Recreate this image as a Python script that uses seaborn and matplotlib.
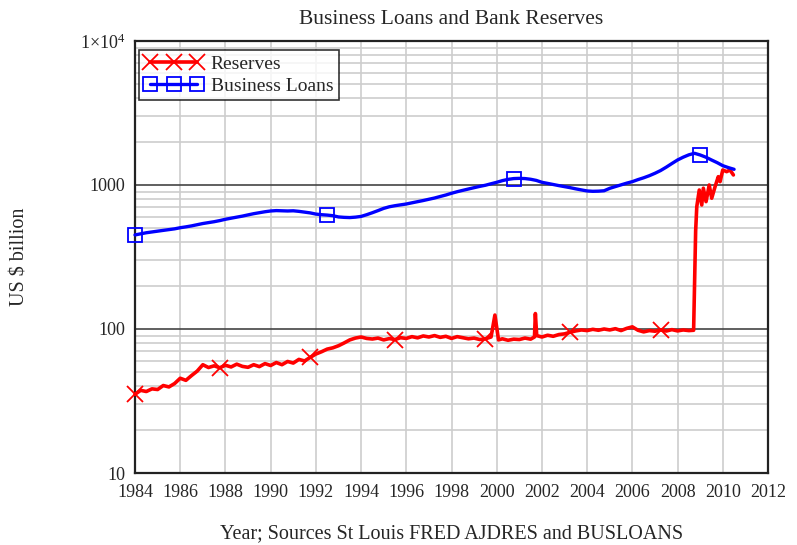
import numpy as np
import pandas as pd
import matplotlib
matplotlib.use('Agg')
import matplotlib.pyplot as plt
import seaborn as sns
from matplotlib.lines import Line2D
from matplotlib.ticker import LogLocator, FixedLocator, FixedFormatter, NullFormatter

# Business loans, quarterly from 1984 Q1 (US $ billion)
loans = [
    450, 458, 466, 472,
    478, 484, 490, 496,
    505, 512, 520, 530,
    540, 548, 556, 566,
    578, 588, 598, 608,
    620, 632, 642, 652,
    660, 664, 662, 660,
    662, 656, 648, 640,
    628, 622, 618, 612,
    600, 596, 594, 598,
    605, 622, 642, 664,
    688, 706, 718, 728,
    738, 752, 766, 780,
    796, 812, 832, 852,
    876, 898, 918, 938,
    958, 978, 996, 1020,
    1044, 1072, 1094, 1108,
    1112, 1108, 1096, 1076,
    1044, 1026, 1008, 990,
    974, 958, 940, 924,
    909, 904, 906, 912,
    948, 975, 1002, 1030,
    1055, 1090, 1122, 1160,
    1206, 1260, 1330, 1410,
    1492, 1560, 1620, 1660,
    1616, 1560, 1492, 1430,
    1362, 1320, 1285,
]
loan_years = 1984 + np.arange(len(loans)) / 4

# Bank reserves (US $ billion)
res_years = [
    1984.00, 1984.25, 1984.50, 1984.75, 1985.00, 1985.25, 1985.50, 1985.75,
    1986.00, 1986.25, 1986.50, 1986.75, 1987.00, 1987.25, 1987.50, 1987.75,
    1988.00, 1988.25, 1988.50, 1988.75, 1989.00, 1989.25, 1989.50, 1989.75,
    1990.00, 1990.25, 1990.50, 1990.75, 1991.00, 1991.25, 1991.50, 1991.75,
    1992.00, 1992.25, 1992.50, 1992.75, 1993.00, 1993.25, 1993.50, 1993.75,
    1994.00, 1994.25, 1994.50, 1994.75, 1995.00, 1995.25, 1995.50, 1995.75,
    1996.00, 1996.25, 1996.50, 1996.75, 1997.00, 1997.25, 1997.50, 1997.75,
    1998.00, 1998.25, 1998.50, 1998.75, 1999.00, 1999.25, 1999.50, 1999.75,
    1999.92, 2000.08, 2000.25, 2000.50, 2000.75, 2001.00, 2001.25, 2001.50,
    2001.67, 2001.71, 2001.77, 2002.00, 2002.25, 2002.50, 2002.75, 2003.00,
    2003.25, 2003.50, 2003.75, 2004.00, 2004.25, 2004.50, 2004.75, 2005.00,
    2005.25, 2005.50, 2005.75, 2006.00, 2006.25, 2006.50, 2006.75, 2007.00,
    2007.25, 2007.50, 2007.75, 2008.00, 2008.25, 2008.50, 2008.71, 2008.80,
    2008.85, 2008.96, 2009.07, 2009.14, 2009.26, 2009.40, 2009.51, 2009.66,
    2009.80, 2009.88, 2010.00, 2010.17, 2010.32, 2010.47,
]
reserves = [
    35.2, 37.5, 36.8, 38.4, 38.0, 40.5, 39.6, 41.8,
    45.5, 44.0, 47.5, 51.0, 56.5, 54.0, 55.5, 53.8,
    56.0, 54.5, 57.0, 55.0, 54.2, 56.5, 54.8, 57.5,
    55.8, 58.5, 56.5, 59.5, 58.0, 61.5, 60.0, 63.5,
    67.0, 69.5, 72.5, 74.0, 76.5, 80.0, 84.0, 86.5,
    88.0, 86.0, 85.2, 86.5, 84.0, 85.8, 84.5, 87.0,
    86.0, 88.5, 86.8, 89.5, 88.0, 90.0, 87.5, 89.0,
    86.0, 88.5, 87.0, 85.5, 86.5, 84.5, 85.5, 88.0,
    125.0, 84.0, 85.5, 83.5, 85.0, 84.5, 86.5, 85.0,
    88.0, 128.0, 90.0, 88.0, 90.5, 89.0, 91.5, 92.5,
    95.0, 97.0, 98.5, 97.5, 99.5, 98.0, 100.0, 98.5,
    100.5, 97.5, 101.0, 103.5, 98.0, 95.5, 97.5, 96.5,
    98.5, 96.8, 99.0, 97.0, 98.5, 97.5, 98.0, 480.0,
    707.0, 923.0, 726.0, 950.0, 766.0, 1000.0, 809.0, 974.0,
    1142.0, 1055.0, 1271.0, 1238.0, 1271.0, 1174.0,
]

res_marker_years = [1984.0, 1987.8, 1991.7, 1995.6, 1999.4, 2003.3, 2007.2]
loan_marker_years = [1984.0, 1992.4, 2000.8, 2009.1]

df_res = pd.DataFrame({'Year': res_years, 'Value': reserves})
df_loans = pd.DataFrame({'Year': loan_years, 'Value': loans})

res_marks = [int(np.argmin(np.abs(np.array(res_years) - y))) for y in res_marker_years]
loan_marks = [int(np.argmin(np.abs(loan_years - y))) for y in loan_marker_years]

RED = '#ff0000'
BLUE = '#0000ff'

sns.set_style('white')
plt.rcParams['font.family'] = ['Liberation Serif', 'DejaVu Serif']
plt.rcParams['mathtext.fontset'] = 'custom'
plt.rcParams['mathtext.rm'] = 'Liberation Serif'
plt.rcParams['mathtext.it'] = 'Liberation Serif'

fig = plt.figure(figsize=(7.97, 5.45), dpi=100)
ax = fig.add_axes([0.1694, 0.1321, 0.7942, 0.7927])

sns.lineplot(data=df_res, x='Year', y='Value', ax=ax, color=RED, lw=2.6,
             marker='x', markevery=res_marks, ms=11, mew=1.3, mec=RED,
             zorder=4, clip_on=False)
sns.lineplot(data=df_loans, x='Year', y='Value', ax=ax, color=BLUE, lw=2.4,
             marker='s', markevery=loan_marks, ms=10, mew=1.3, mec=BLUE,
             mfc='none', zorder=4, clip_on=False)

ax.set_yscale('log')
ax.set_xlim(1984, 2012)
ax.set_ylim(10, 10000)

ax.xaxis.set_major_locator(FixedLocator(np.arange(1984, 2013, 2)))
ax.yaxis.set_major_locator(FixedLocator([10, 100, 1000, 10000]))
ax.yaxis.set_major_formatter(FixedFormatter(['10', '100', '1000', r'1$\times$10$^{4}$']))
ax.yaxis.set_minor_locator(LogLocator(base=10, subs=np.arange(2, 10)))
ax.yaxis.set_minor_formatter(NullFormatter())

ax.grid(False)
ax.grid(which='minor', axis='y', color='#cdcdcd', lw=1.2, zorder=0)
ax.grid(which='major', axis='x', color='#cdcdcd', lw=1.2, zorder=0)
ax.grid(which='major', axis='y', color='#444444', lw=1.2, zorder=1)

ax.tick_params(axis='x', which='both', length=0, labelsize=13, pad=8)
ax.tick_params(axis='y', which='major', length=6, width=1, direction='out',
               labelsize=13, pad=1)
ax.tick_params(axis='y', which='minor', length=0)

for s in ax.spines.values():
    s.set_color('#222222')
    s.set_linewidth(1.6)

ax.set_title('Business Loans and Bank Reserves', fontsize=15.5, pad=12)
ax.set_xlabel('Year; Sources St Louis FRED AJDRES and BUSLOANS', fontsize=14.5)
ax.set_ylabel('US $ billion', fontsize=14.5)
ax.xaxis.set_label_coords(0.5, -0.118)
ax.yaxis.set_label_coords(-0.166, 0.5)

handles = [
    Line2D([], [], color=RED, lw=2.6, marker='x', ms=11, mew=1.3, mec=RED),
    Line2D([], [], color=BLUE, lw=2.4, marker='s', ms=10, mew=1.3, mec=BLUE, mfc='none'),
]
leg = ax.legend(handles, ['Reserves', 'Business Loans'], loc='upper left',
                bbox_to_anchor=(0.006, 0.98), numpoints=3, handlelength=3.0,
                handletextpad=0.4, fontsize=14, frameon=True, fancybox=False,
                borderpad=0.3, labelspacing=0.2, borderaxespad=0)
leg.get_frame().set_edgecolor('black')
leg.get_frame().set_linewidth(1.2)
leg.set_zorder(6)

fig.savefig('out.png', dpi=100)
